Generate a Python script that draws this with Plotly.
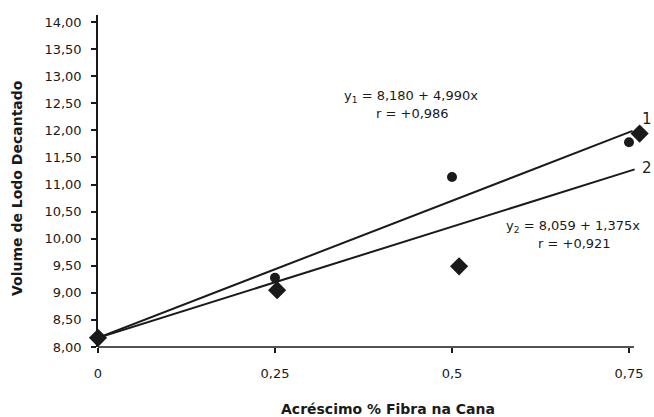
import plotly.graph_objects as go

# Data
x_circles = [0, 0.25, 0.5, 0.75]
y_circles = [8.17, 9.28, 11.14, 11.78]
x_diamonds = [0, 0.253, 0.51, 0.765]
y_diamonds = [8.17, 9.05, 9.49, 11.94]

line1_x = [0, 0.755]
line1_y = [8.17, 11.99]
line2_x = [0, 0.758]
line2_y = [8.17, 11.28]

y_tickvals = [8, 8.5, 9, 9.5, 10, 10.5, 11, 11.5, 12, 12.5, 13, 13.5, 14]
y_ticktext = ["8,00", "8,50", "9,00", "9,50", "10,00", "10,50", "11,00",
              "11,50", "12,00", "12,50", "13,00", "13,50", "14,00"]
x_tickvals = [0, 0.25, 0.5, 0.75]
x_ticktext = ["0", "0,25", "0,5", "0,75"]
x_axis_end = 0.757

x_title = "Acréscimo % Fibra na Cana"
y_title = "Volume de Lodo Decantado"

ink = "#1a1a1a"
font_family = "DejaVu Sans, Liberation Sans, Arial, sans-serif"

W, H = 654, 417
L, R, T, B = 98, 4, 15, 70


def px_to_paper(px, py):
    return (px - L) / (W - L - R), 1 - (py - T) / (H - T - B)


fig = go.Figure()
fig.add_trace(go.Scatter(x=line1_x, y=line1_y, mode="lines",
                         line=dict(color=ink, width=2), showlegend=False))
fig.add_trace(go.Scatter(x=line2_x, y=line2_y, mode="lines",
                         line=dict(color=ink, width=2), showlegend=False))
fig.add_trace(go.Scatter(x=x_circles, y=y_circles, mode="markers",
                         marker=dict(symbol="circle", size=10, color=ink),
                         showlegend=False, cliponaxis=False))
fig.add_trace(go.Scatter(x=x_diamonds, y=y_diamonds, mode="markers",
                         marker=dict(symbol="diamond", size=14, color=ink),
                         showlegend=False, cliponaxis=False))

# x axis line drawn up to just past the last tick
fig.add_shape(type="line", xref="x", yref="paper", x0=0, x1=x_axis_end, y0=0, y1=0,
              line=dict(color=ink, width=1.5))

annotations = [
    dict(x=411, y=97, text="y<sub>1</sub> = 8,180 + 4,990x", size=13),
    dict(x=412, y=113, text="r = +0,986", size=13),
    dict(x=573, y=226, text="y<sub>2</sub> = 8,059 + 1,375x", size=13),
    dict(x=574, y=243, text="r = +0,921", size=13),
    dict(x=647, y=119, text="1", size=15),
    dict(x=647, y=168, text="2", size=15),
]
for a in annotations:
    ax, ay = px_to_paper(a["x"], a["y"])
    fig.add_annotation(x=ax, y=ay, xref="paper", yref="paper", text=a["text"],
                       showarrow=False, font=dict(size=a["size"], color=ink, family=font_family),
                       xanchor="center", yanchor="middle")

# axis titles
tx, ty = px_to_paper(388, 409)
fig.add_annotation(x=tx, y=ty, xref="paper", yref="paper", text="<b>" + x_title + "</b>",
                   showarrow=False, font=dict(size=14, color=ink, family=font_family),
                   xanchor="center", yanchor="middle")
tx, ty = px_to_paper(17, 188)
fig.add_annotation(x=tx, y=ty, xref="paper", yref="paper", text="<b>" + y_title + "</b>",
                   textangle=-90, showarrow=False,
                   font=dict(size=14, color=ink, family=font_family),
                   xanchor="center", yanchor="middle")

fig.update_layout(
    width=W, height=H,
    margin=dict(l=L, r=R, t=T, b=B, autoexpand=False),
    paper_bgcolor="white", plot_bgcolor="white",
    font=dict(family=font_family, color=ink, size=13),
    xaxis=dict(range=[0, (W - L - R) / 708.0], tickvals=x_tickvals, ticktext=x_ticktext,
               showgrid=False, zeroline=False, showline=False, automargin=False,
               ticks="outside", ticklen=5, tickcolor=ink, tickwidth=1.5, ticklabelstandoff=9,
               tickfont=dict(size=13, color=ink)),
    yaxis=dict(range=[8, 14.13], tickvals=y_tickvals, ticktext=y_ticktext,
               showgrid=False, zeroline=False, showline=True, linecolor=ink, linewidth=1.5,
               automargin=False,
               ticks="outside", ticklen=5, tickcolor=ink, tickwidth=1.5, ticklabelstandoff=7,
               tickfont=dict(size=13, color=ink)),
)

fig.write_html("out.html", config={"displayModeBar": False},
               post_script="document.body.style.margin='0';")
